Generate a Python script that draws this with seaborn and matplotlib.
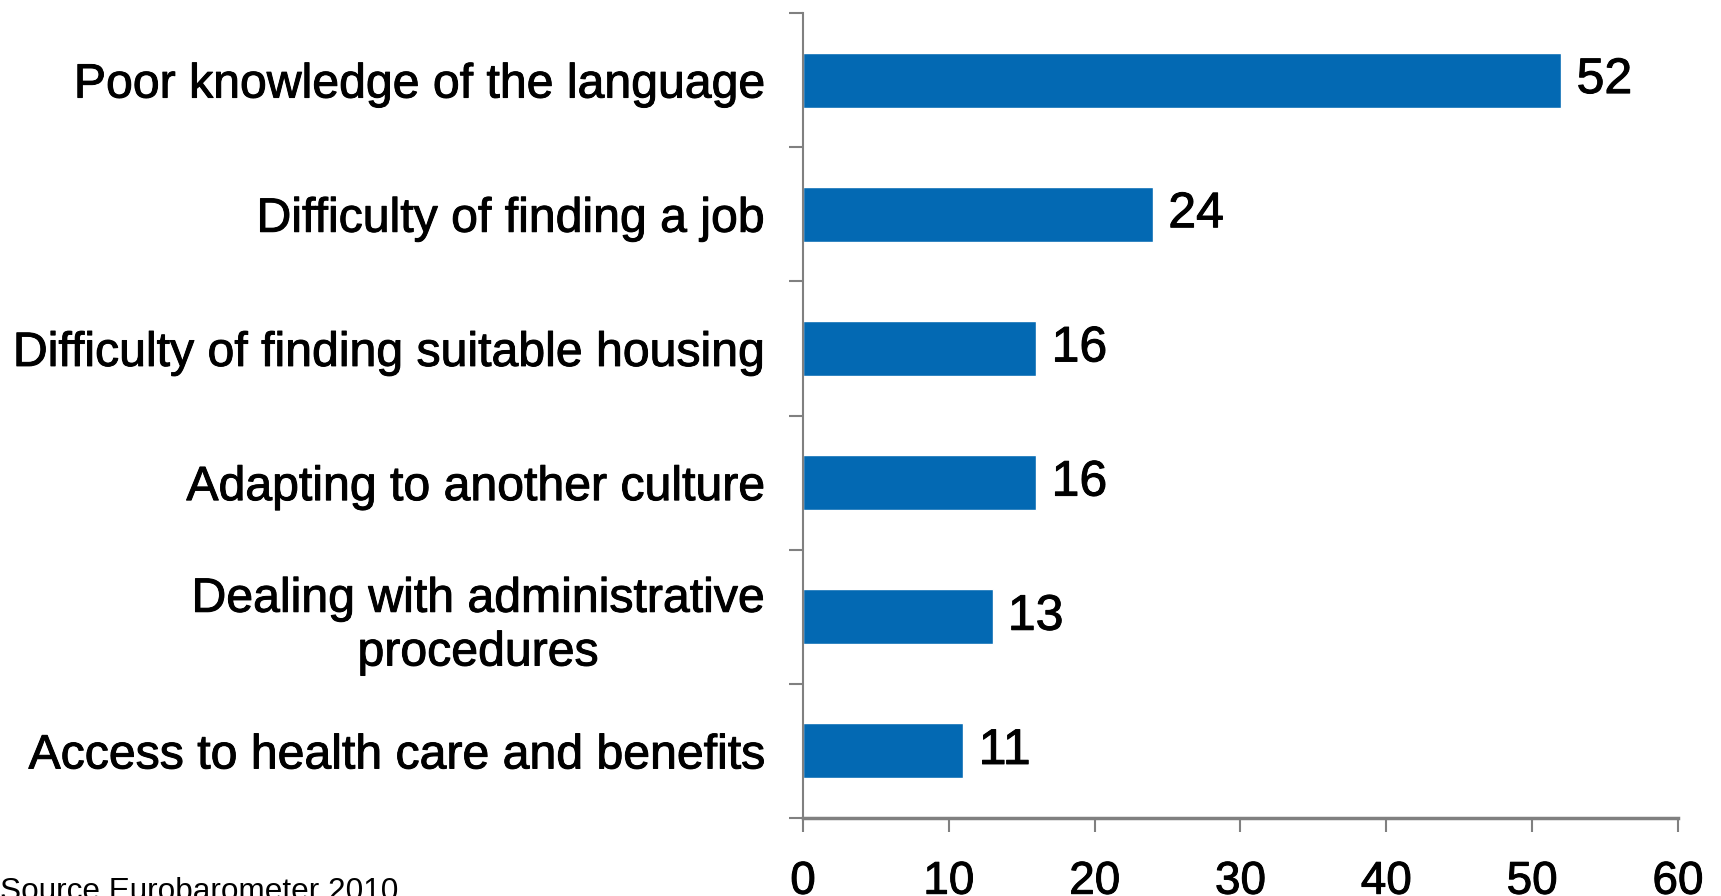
import matplotlib
matplotlib.use("Agg")
import matplotlib.pyplot as plt
import matplotlib.patheffects as pe
import seaborn as sns
import pandas as pd
import numpy as np

# Reported difficulties of living abroad (% of respondents)
categories = [
    "Poor knowledge of the language",
    "Difficulty of finding a job",
    "Difficulty of finding suitable housing",
    "Adapting to another culture",
    "Dealing with administrative\nprocedures",
    "Access to health care and benefits",
]
values = [52, 24, 16, 16, 13, 11]
x_ticks = [0, 10, 20, 30, 40, 50, 60]
source_note = "Source Eurobarometer 2010"

sns.set_theme(style="white")
plt.rcParams["font.family"] = ["Liberation Sans", "DejaVu Sans"]
plt.rcParams["text.color"] = "black"
plt.rcParams["xtick.labelcolor"] = "black"
plt.rcParams["ytick.labelcolor"] = "black"

# slight outline so the glyphs read heavier
heavy = [pe.withStroke(linewidth=0.7, foreground="black")]

df = pd.DataFrame({"category": categories, "value": values})

fig = plt.figure(figsize=(17.21, 8.96), dpi=100)
ax = fig.add_axes([0.4666, 0.087, 0.975 - 0.4666, 0.9855 - 0.087])

sns.barplot(data=df, x="value", y="category", orient="h", color="#0369B3",
            saturation=1, width=0.41, ax=ax)

ax.set_xlim(0, 60)
ax.set_ylim(len(categories) - 0.5, -0.5)
ax.set_xlabel("")
ax.set_ylabel("")

# x axis ticks
ax.set_xticks(x_ticks)
ax.set_xticklabels([str(t) for t in x_ticks], fontsize=33, path_effects=heavy)
ax.tick_params(axis="x", direction="out", length=10, width=1.5, color="#808080",
               pad=20, bottom=True)

# y axis: tick marks on category boundaries, labels centred on the bars
ax.set_yticks(np.arange(-0.5, len(categories), 1.0))
ax.set_yticklabels([])
ax.tick_params(axis="y", which="major", direction="out", length=10, width=1.5,
               color="#808080", left=True)
ax.set_yticks(np.arange(len(categories)), minor=True)
ax.set_yticklabels(categories, minor=True, fontsize=34.7, ha="right",
                   multialignment="center", linespacing=1.25,
                   path_effects=heavy)
ax.tick_params(axis="y", which="minor", length=0, pad=28)

for side in ["top", "right"]:
    ax.spines[side].set_visible(False)
ax.spines["left"].set_color("#808080")
ax.spines["left"].set_linewidth(1.5)
ax.spines["bottom"].set_color("#808080")
ax.spines["bottom"].set_linewidth(2.5)

vlabels = ax.bar_label(ax.containers[0], labels=[str(v) for v in values],
                       padding=11, fontsize=36)
for t in vlabels:
    t.set_path_effects(heavy)

fig.text(0.0, -4 / 896, source_note, fontsize=22.7, ha="left", va="baseline")

fig.savefig("out.png", dpi=100)
